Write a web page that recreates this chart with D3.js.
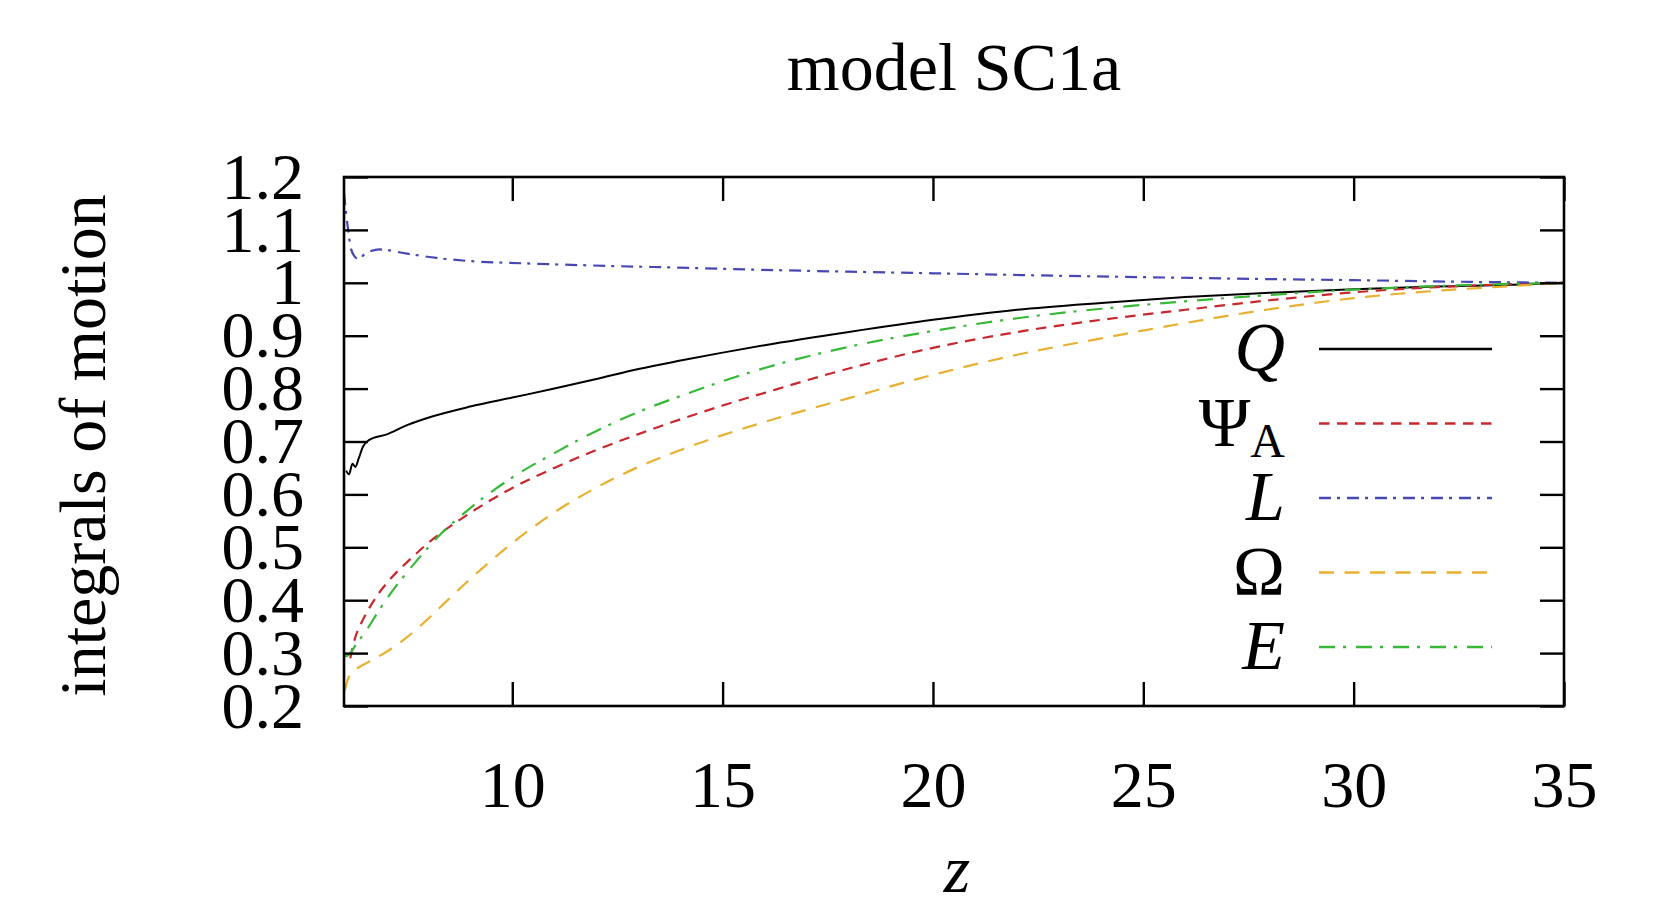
<!DOCTYPE html>
<html>
<head>
<meta charset="utf-8">
<script src="https://cdn.jsdelivr.net/npm/d3@7"></script>
<style>
  body { margin: 0; background: #fff; }
  text { font-family: 'Liberation Serif', 'DejaVu Serif', serif; fill: #000; }
</style>
</head>
<body>
<div id="chart"></div>
<script>
// values, [z, value]
const qData = [[6.05, 0.645], [6.12, 0.638], [6.2, 0.658], [6.27, 0.652], [6.35, 0.668], [6.45, 0.69], [6.6, 0.703], [7, 0.713], [7.5, 0.731], [8, 0.745], [9, 0.766], [10, 0.783], [11, 0.8], [12, 0.818], [13, 0.837], [14, 0.853], [15, 0.868], [16, 0.882], [18, 0.907], [20, 0.93], [22, 0.949], [24, 0.962], [26, 0.973], [28, 0.981], [30, 0.988], [32, 0.993], [34, 0.997], [35, 1.0]]
const psiData = [[6.15, 0.29], [6.25, 0.325], [6.4, 0.355], [6.6, 0.385], [6.8, 0.41], [7.1, 0.44], [7.5, 0.472], [8, 0.508], [9, 0.565], [10, 0.612], [11, 0.65], [12, 0.684], [13, 0.714], [14, 0.742], [15, 0.768], [16, 0.792], [18, 0.838], [20, 0.877], [22, 0.907], [24, 0.93], [26, 0.949], [28, 0.967], [30, 0.982], [32, 0.992], [34, 0.998], [35, 1.0]]
const lData = [[6.0, 1.17], [6.02, 1.155], [6.05, 1.13], [6.1, 1.1], [6.15, 1.07], [6.25, 1.05], [6.35, 1.045], [6.5, 1.055], [6.85, 1.063], [7.5, 1.055], [8.2, 1.047], [9, 1.041], [10.2, 1.037], [12.25, 1.032], [14.3, 1.028], [15.7, 1.025], [18, 1.021], [20, 1.018], [22.5, 1.014], [25.5, 1.01], [28, 1.007], [30, 1.005], [32.5, 1.002], [35, 1.0]]
const omegaData = [[6.02, 0.23], [6.1, 0.252], [6.3, 0.27], [6.6, 0.284], [7, 0.302], [7.5, 0.33], [8, 0.365], [8.5, 0.403], [9, 0.44], [10, 0.508], [11, 0.566], [12, 0.613], [13, 0.652], [14, 0.684], [15, 0.712], [16, 0.737], [18, 0.782], [20, 0.826], [22, 0.864], [24, 0.895], [26, 0.924], [28, 0.95], [30, 0.971], [32, 0.985], [34, 0.995], [35, 1.0]]
const eData = [[6.02, 0.294], [6.1, 0.296], [6.3, 0.318], [6.55, 0.345], [6.8, 0.377], [7.1, 0.412], [7.7, 0.472], [8.3, 0.525], [9, 0.574], [10, 0.632], [11, 0.678], [12, 0.72], [13, 0.756], [14, 0.786], [15, 0.814], [16, 0.839], [18, 0.879], [20, 0.909], [22, 0.933], [24, 0.951], [26, 0.965], [28, 0.977], [30, 0.987], [32, 0.994], [35, 1.0]]

const xTicks = [10, 15, 20, 25, 30, 35]
const yTicks = [0.2, 0.3, 0.4, 0.5, 0.6, 0.7, 0.8, 0.9, 1.0, 1.1, 1.2]

const series = [
  { name: 'Q', italic: true, data: qData, color: '#000000', dash: null },
  { name: 'Ψ', sub: 'A', italic: false, data: psiData, color: '#c8282d', dash: '10.5,7.5' },
  { name: 'L', italic: true, data: lData, color: '#4848b4', dash: '12,6,3,7' },
  { name: 'Ω', italic: false, data: omegaData, color: '#e8b030', dash: '15,10.5' },
  { name: 'E', italic: true, data: eData, color: '#38b838', dash: '16,8,3,10' }
]

const margin = { top: 177, right: 108, bottom: 204, left: 344 }
const width = 1672 - margin.left - margin.right
const height = 910 - margin.top - margin.bottom

const root = d3
  .select('#chart')
  .append('svg')
  .attr('width', width + margin.left + margin.right)
  .attr('height', height + margin.top + margin.bottom)

const svg = root
  .append('g')
  .attr('transform', 'translate(' + margin.left + ',' + margin.top + ')')

const xPositionScale = d3.scaleLinear().domain([6, 35]).range([0, width])
const yPositionScale = d3.scaleLinear().domain([0.2, 1.2]).range([height, 0])

svg
  .append('clipPath')
  .attr('id', 'plot-clip')
  .append('rect')
  .attr('width', width)
  .attr('height', height)

// curves
const line = d3
  .line()
  .x(d => xPositionScale(d[0]))
  .y(d => yPositionScale(d[1]))
  .curve(d3.curveMonotoneX)

svg
  .append('g')
  .attr('clip-path', 'url(#plot-clip)')
  .selectAll('path')
  .data(series)
  .enter()
  .append('path')
  .attr('d', d => line(d.data))
  .attr('fill', 'none')
  .attr('stroke', d => d.color)
  .attr('stroke-width', d => (d.dash ? 2.2 : 2))
  .attr('stroke-dasharray', d => d.dash)

// axes, ticks pointing inward on all four sides
const fmt = d => String(+d.toFixed(1))

svg
  .append('g')
  .attr('class', 'axis x-axis')
  .attr('transform', 'translate(0,' + height + ')')
  .call(d3.axisBottom(xPositionScale).tickValues(xTicks).tickSize(-24).tickPadding(54))

svg
  .append('g')
  .attr('class', 'axis x-axis-top')
  .call(d3.axisTop(xPositionScale).tickValues(xTicks).tickSize(-24).tickFormat(''))

svg
  .append('g')
  .attr('class', 'axis y-axis')
  .call(d3.axisLeft(yPositionScale).tickValues(yTicks).tickSize(-24).tickPadding(40).tickFormat(fmt))

svg
  .append('g')
  .attr('class', 'axis y-axis-right')
  .attr('transform', 'translate(' + width + ',0)')
  .call(d3.axisRight(yPositionScale).tickValues(yTicks).tickSize(-24).tickFormat(''))

svg.selectAll('.axis .domain').remove()
svg.selectAll('.axis line').attr('stroke', '#000').attr('stroke-width', 2.4)
svg
  .selectAll('.axis text')
  .style('font-family', "'Liberation Serif', serif")
  .style('font-size', '66px')
  .attr('fill', '#000')

svg
  .append('rect')
  .attr('width', width)
  .attr('height', height)
  .attr('fill', 'none')
  .attr('stroke', '#000')
  .attr('stroke-width', 2.6)

// legend
const legend = svg
  .append('g')
  .attr('class', 'legend')
  .selectAll('g')
  .data(series)
  .enter()
  .append('g')
  .attr('transform', (d, i) => 'translate(0,' + (172 + i * 74.5) + ')')

legend
  .append('line')
  .attr('x1', 975)
  .attr('x2', 1148)
  .attr('stroke', d => d.color)
  .attr('stroke-width', 2.6)
  .attr('stroke-dasharray', d => d.dash)

const labels = legend
  .append('text')
  .attr('x', 941)
  .attr('y', 22)
  .attr('text-anchor', 'end')
  .style('font-size', '70px')
  .style('font-style', d => (d.italic ? 'italic' : 'normal'))

labels.append('tspan').text(d => d.name)
labels
  .filter(d => d.sub)
  .append('tspan')
  .attr('dy', 11)
  .style('font-size', '48px')
  .text(d => d.sub)

// titles
root
  .append('text')
  .attr('x', margin.left + width / 2)
  .attr('y', 90)
  .attr('text-anchor', 'middle')
  .style('font-size', '68px')
  .text('model SC1a')

root
  .append('text')
  .attr('x', 957)
  .attr('y', 892)
  .attr('text-anchor', 'middle')
  .style('font-size', '68px')
  .style('font-style', 'italic')
  .text('z')

root
  .append('text')
  .attr('transform', 'translate(105,' + (margin.top + height / 2 + 4) + ') rotate(-90)')
  .attr('text-anchor', 'middle')
  .style('font-size', '66px')
  .text('integrals of motion')
</script>
</body>
</html>
